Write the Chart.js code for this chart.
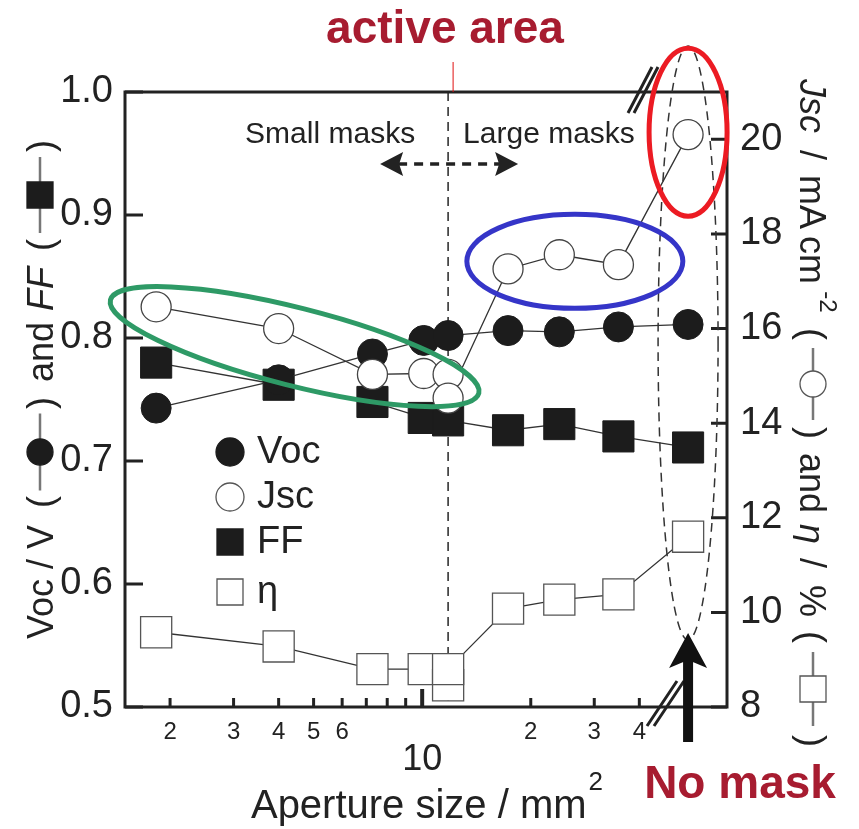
<!DOCTYPE html>
<html>
<head>
<meta charset="utf-8">
<script src="https://cdn.jsdelivr.net/npm/chart.js@4.4.1/dist/chart.umd.min.js"></script>
<style>
  html, body { margin: 0; padding: 0; background: #fff; }
  #wrap { width: 859px; height: 829px; }
</style>
</head>
<body>
<div id="wrap"><canvas id="apertureChart" width="859" height="829"></canvas></div>
<script>
const FONT = "'Liberation Sans', Arial, Helvetica, sans-serif";
const INK = "#222";
const RED_TEXT = "#a71c30";

// axis ticks
const xTickValues = [2, 3, 4, 5, 6, 7, 8, 9, 10, 20, 30, 40];
const xTickLabels = ["2", "3", "4", "5", "6", "", "", "", "", "2", "3", "4"];
const leftTicks = [0.5, 0.6, 0.7, 0.8, 0.9, 1.0];
const rightTicks = [8, 10, 12, 14, 16, 18, 20];

// data (aperture in mm2, last point = no mask)
const apertureVF = [1.83, 4.0, 7.28, 10.1, 11.8, 17.3, 24.0, 35.0, 54.6];
const vocValues = [0.743, 0.766, 0.787, 0.798, 0.802, 0.806, 0.805, 0.809, 0.811];
const ffValues = [0.780, 0.762, 0.748, 0.735, 0.733, 0.725, 0.730, 0.720, 0.711];
const apertureJE = [1.83, 4.0, 7.28, 10.1, 11.8, 11.8, 17.3, 24.0, 35.0, 54.6];
const jscValues = [16.46, 16.0, 15.03, 15.05, 15.03, 14.53, 17.26, 17.56, 17.35, 20.1];
const etaValues = [9.58, 9.28, 8.80, 8.80, 8.46, 8.80, 10.08, 10.27, 10.38, 11.6];
const activeArea = 11.8;
const noMask = 54.6;

const pts = (xs, ys) => xs.map((x, i) => ({x: x, y: ys[i]}));

function ellipse(ctx, cx, cy, rx, ry, rot, color, width, dash) {
  ctx.save();
  ctx.strokeStyle = color; ctx.lineWidth = width;
  ctx.setLineDash(dash || []);
  ctx.beginPath(); ctx.ellipse(cx, cy, rx, ry, rot, 0, Math.PI * 2); ctx.stroke();
  ctx.restore();
}

function marker(ctx, shape, filled, cx, cy, size) {
  ctx.beginPath();
  if (shape === "circle") ctx.arc(cx, cy, size / 2, 0, Math.PI * 2);
  else ctx.rect(cx - size / 2, cy - size / 2, size, size);
  ctx.fillStyle = filled ? "#1c1c1c" : "#fff";
  ctx.fill();
  ctx.lineWidth = 1.3; ctx.strokeStyle = filled ? "#1c1c1c" : "#555";
  ctx.stroke();
}

// rotated axis title made of text pieces and little series symbols
function drawTitle(ctx, ox, rot, pieces) {
  pieces.forEach(p => {
    ctx.save();
    ctx.translate(ox, p.c);
    ctx.rotate(rot);
    if (p.sym) {
      ctx.strokeStyle = "#777"; ctx.lineWidth = 2.5;
      ctx.beginPath(); ctx.moveTo(-p.len / 2, -13); ctx.lineTo(p.len / 2, -13); ctx.stroke();
      marker(ctx, p.sym, p.filled, 0, -13, 26);
    } else {
      ctx.font = (p.italic ? "italic " : "") + (p.size || 36) + "px " + FONT;
      ctx.fillStyle = INK; ctx.textAlign = "center"; ctx.textBaseline = "alphabetic";
      ctx.fillText(p.t, 0, p.dy || 0);
    }
    ctx.restore();
  });
}

const decor = {
  id: "decor",
  beforeDatasetsDraw(chart) {
    const {ctx, chartArea: a, scales: {x}} = chart;
    const xa = x.getPixelForValue(activeArea);
    ctx.save();
    ctx.strokeStyle = "#333"; ctx.lineWidth = 1.6; ctx.setLineDash([9, 6]);
    ctx.beginPath(); ctx.moveTo(xa, a.top); ctx.lineTo(xa, a.bottom); ctx.stroke();
    ctx.restore();
  },
  afterDatasetsDraw(chart) {
    const {ctx, chartArea: a, scales: {x, y, y1}} = chart;
    const xa = x.getPixelForValue(activeArea);
    const xn = x.getPixelForValue(noMask);
    ctx.save();

    // frame + inward ticks
    ctx.strokeStyle = INK; ctx.lineWidth = 3;
    ctx.strokeRect(a.left, a.top, a.right - a.left, a.bottom - a.top);
    ctx.beginPath();
    leftTicks.forEach(v => { const py = y.getPixelForValue(v); ctx.moveTo(a.left, py); ctx.lineTo(a.left + 18, py); });
    rightTicks.forEach(v => { const py = y1.getPixelForValue(v); ctx.moveTo(a.right, py); ctx.lineTo(a.right - 16, py); });
    xTickValues.forEach(v => { if (v === 10) return; const px = x.getPixelForValue(v); ctx.moveTo(px, a.bottom); ctx.lineTo(px, a.bottom - 9); });
    ctx.stroke();
    ctx.lineWidth = 4;
    ctx.beginPath(); ctx.moveTo(x.getPixelForValue(10), a.bottom); ctx.lineTo(x.getPixelForValue(10), a.bottom - 18); ctx.stroke();

    // axis break marks
    ctx.lineWidth = 3;
    ctx.beginPath();
    ctx.moveTo(628, 113); ctx.lineTo(652, 67); ctx.moveTo(634, 113); ctx.lineTo(658, 67);
    ctx.moveTo(647, 726); ctx.lineTo(677, 681); ctx.moveTo(654, 726); ctx.lineTo(684, 681);
    ctx.stroke();

    // dashed column around the no-mask points
    ellipse(ctx, xn, y.getPixelForValue(0.796), 30, 297, 0, "#333", 1.5, [9, 6]);

    // small / large masks
    ctx.fillStyle = INK; ctx.font = "30px " + FONT; ctx.textBaseline = "alphabetic"; ctx.textAlign = "left";
    ctx.fillText("Small masks", xa - 203, 143);
    ctx.fillText("Large masks", xa + 15, 143);
    const ay = 164;
    ctx.strokeStyle = INK; ctx.lineWidth = 3.5; ctx.setLineDash([9, 7]);
    ctx.beginPath(); ctx.moveTo(xa - 50, ay); ctx.lineTo(xa + 52, ay); ctx.stroke();
    ctx.setLineDash([]);
    ctx.beginPath();
    ctx.moveTo(xa - 68, ay); ctx.lineTo(xa - 45, ay - 12); ctx.lineTo(xa - 49, ay); ctx.lineTo(xa - 45, ay + 12); ctx.closePath();
    ctx.moveTo(xa + 70, ay); ctx.lineTo(xa + 47, ay - 12); ctx.lineTo(xa + 51, ay); ctx.lineTo(xa + 47, ay + 12); ctx.closePath();
    ctx.fill();

    // highlight ellipses
    ellipse(ctx, x.getPixelForValue(4.43), y.getPixelForValue(0.793), 190, 39, 0.248, "#2e9a66", 5);
    ellipse(ctx, x.getPixelForValue(26.5), y1.getPixelForValue(17.42), 108, 47, 0, "#3535c8", 5);
    ellipse(ctx, xn, y1.getPixelForValue(20.15), 39, 84, 0, "#ec1b23", 5);

    // big arrow to the no-mask column
    ctx.fillStyle = "#111";
    ctx.fillRect(xn - 5, 655, 10, 87);
    ctx.beginPath();
    ctx.moveTo(xn, 633); ctx.lineTo(xn + 19, 668); ctx.lineTo(xn, 660); ctx.lineTo(xn - 19, 668); ctx.closePath();
    ctx.fill();

    // red labels
    ctx.fillStyle = RED_TEXT; ctx.font = "bold 46px " + FONT; ctx.textAlign = "center";
    ctx.fillText("active area", 445, 43);
    ctx.fillText("No mask", 740, 798);
    ctx.strokeStyle = "#e01010"; ctx.lineWidth = 1;
    ctx.beginPath(); ctx.moveTo(xa + 5, 62); ctx.lineTo(xa + 5, 92); ctx.stroke();

    // legend
    const rows = [
      {t: "Voc", shape: "circle", filled: true, cy: 452},
      {t: "Jsc", shape: "circle", filled: false, cy: 497},
      {t: "FF", shape: "rect", filled: true, cy: 542},
      {t: "\u03b7", shape: "rect", filled: false, cy: 592}
    ];
    rows.forEach(r => {
      marker(ctx, r.shape, r.filled, 230, r.cy, r.shape === "circle" ? 28 : 26);
      ctx.fillStyle = INK; ctx.font = "38px " + FONT; ctx.textAlign = "left"; ctx.textBaseline = "middle";
      ctx.fillText(r.t, 257, r.cy + 1);
    });

    // x-axis: big "10" and title
    ctx.fillStyle = INK; ctx.textAlign = "center"; ctx.textBaseline = "middle";
    ctx.font = "36px " + FONT;
    ctx.fillText("10", x.getPixelForValue(10), 760);
    ctx.textBaseline = "alphabetic"; ctx.textAlign = "left";
    ctx.font = "40px " + FONT;
    const main = "Aperture size / mm";
    const mw = ctx.measureText(main).width;
    ctx.font = "26px " + FONT;
    const sw = ctx.measureText("2").width;
    const sx = 426 - (mw + sw) / 2;
    ctx.font = "40px " + FONT; ctx.fillText(main, sx, 818);
    ctx.font = "26px " + FONT; ctx.fillText("2", sx + mw + 2, 790);

    // left title (reads bottom to top)
    drawTitle(ctx, 53, -Math.PI / 2, [
      {t: "Voc / V", c: 582},
      {t: "(", c: 502},
      {sym: "circle", filled: true, c: 452, len: 77},
      {t: ")", c: 403},
      {t: "and", c: 352},
      {t: "FF", c: 289, italic: true},
      {t: "(", c: 245},
      {sym: "rect", filled: true, c: 195, len: 76},
      {t: ")", c: 146}
    ]);
    // right title (reads top to bottom)
    drawTitle(ctx, 800, Math.PI / 2, [
      {t: "Jsc", c: 106, italic: true},
      {t: "/", c: 155},
      {t: "mA", c: 202},
      {t: "cm", c: 260},
      {t: "-2", c: 302, size: 24, dy: -20},
      {t: "(", c: 334},
      {sym: "circle", filled: false, c: 384, len: 72},
      {t: ")", c: 433},
      {t: "and", c: 483},
      {t: "\u03b7", c: 534, italic: true},
      {t: "/", c: 563},
      {t: "%", c: 601},
      {t: "(", c: 637},
      {sym: "rect", filled: false, c: 689, len: 74},
      {t: ")", c: 741}
    ]);
    ctx.restore();
  }
};

const tickFont = {family: FONT, size: 38};

new Chart(document.getElementById("apertureChart"), {
  type: "line",
  data: {
    datasets: [
      {label: "Jsc", data: pts(apertureJE, jscValues), yAxisID: "y1", order: 0,
       borderColor: "#333", borderWidth: 1.3, pointStyle: "circle", pointRadius: 15,
       pointBackgroundColor: "#fff", pointBorderColor: "#444", pointBorderWidth: 1.3},
      {label: "Voc", data: pts(apertureVF, vocValues), yAxisID: "y", order: 1,
       borderColor: "#333", borderWidth: 1.3, pointStyle: "circle", pointRadius: 15,
       pointBackgroundColor: "#1c1c1c", pointBorderColor: "#1c1c1c", pointBorderWidth: 1},
      {label: "FF", data: pts(apertureVF, ffValues), yAxisID: "y", order: 2,
       borderColor: "#333", borderWidth: 1.3, pointStyle: "rect", pointRadius: 22,
       pointBackgroundColor: "#1c1c1c", pointBorderColor: "#1c1c1c", pointBorderWidth: 1},
      {label: "\u03b7", data: pts(apertureJE, etaValues), yAxisID: "y1", order: 3,
       borderColor: "#333", borderWidth: 1.3, pointStyle: "rect", pointRadius: 22,
       pointBackgroundColor: "#fff", pointBorderColor: "#555", pointBorderWidth: 1.3}
    ]
  },
  options: {
    responsive: false, animation: false, events: [], devicePixelRatio: 1,
    layout: {padding: {top: 92, left: 0, right: 0, bottom: 0}},
    plugins: {legend: {display: false}, tooltip: {enabled: false}},
    elements: {line: {tension: 0}},
    scales: {
      x: {type: "logarithmic", min: 1.5, max: 70,
          afterBuildTicks: s => { s.ticks = xTickValues.map(v => ({value: v})); },
          afterFit: s => { s.height = 122; },
          grid: {display: false, drawTicks: false}, border: {display: false},
          ticks: {autoSkip: false, maxRotation: 0, minRotation: 0, padding: 11, color: INK,
                  font: {family: FONT, size: 24}, callback: (v, i) => xTickLabels[i]}},
      y: {type: "linear", position: "left", min: 0.5, max: 1.0,
          afterBuildTicks: s => { s.ticks = leftTicks.map(v => ({value: v})); },
          afterFit: s => { s.width = 125; },
          grid: {display: false, drawTicks: false}, border: {display: false},
          ticks: {padding: 12, color: INK, font: tickFont, callback: v => v.toFixed(1)}},
      y1: {type: "linear", position: "right", min: 8, max: 21,
           afterBuildTicks: s => { s.ticks = rightTicks.map(v => ({value: v})); },
           afterFit: s => { s.width = 132; },
           grid: {display: false, drawTicks: false}, border: {display: false},
           ticks: {padding: 13, color: INK, font: tickFont}}
    }
  },
  plugins: [decor]
});
</script>
</body>
</html>
